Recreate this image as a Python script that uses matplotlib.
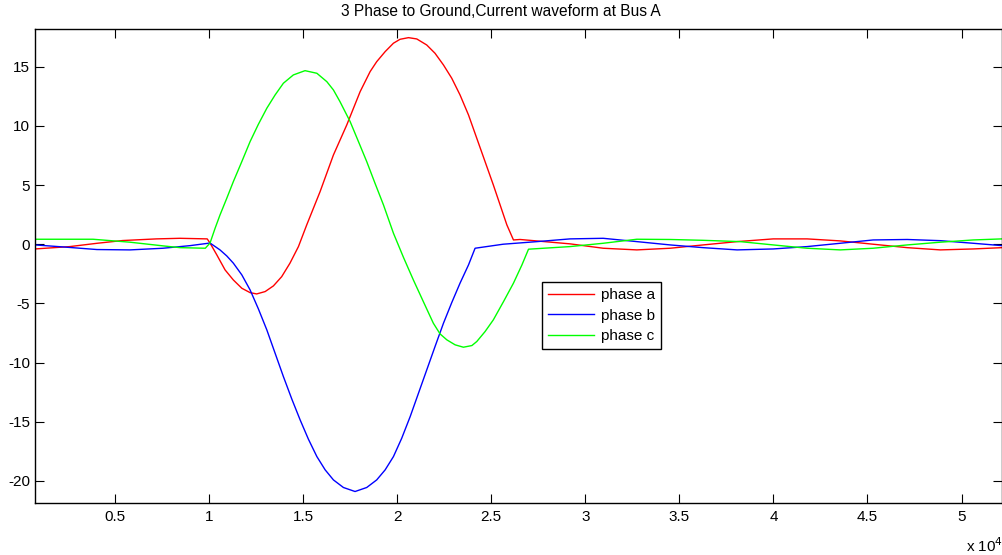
import matplotlib
matplotlib.use("Agg")
import matplotlib.pyplot as plt

plt.rcParams['font.family'] = ['Liberation Sans', 'DejaVu Sans']
plt.rcParams['axes.unicode_minus'] = False

# ---- data (sample index, current) ----
red_x = [750, 2600, 4050, 5400, 7200, 8450, 9900, 10050, 10410, 10850, 11290, 11740,
         12180, 12530, 12980, 13420, 13860, 14300, 14750, 15190, 15900, 16610, 17320,
         18030, 18560, 18910, 19360, 19800, 20150, 20600, 21040, 21570, 22010, 22460,
         22900, 23340, 23790, 24230, 24670, 25110, 25470, 25830, 26180, 26530, 29190,
         30950, 32740, 34510, 36260, 38070, 39990, 41790, 43550, 45300, 47110, 48870,
         50620, 52150]
red_y = [-0.40, -0.20, 0.08, 0.31, 0.45, 0.50, 0.45, 0.10, -0.90, -2.17, -3.02, -3.72,
         -4.09, -4.20, -4.00, -3.52, -2.74, -1.60, -0.20, 1.63, 4.44, 7.54, 10.08,
         12.89, 14.58, 15.42, 16.27, 16.98, 17.31, 17.45, 17.34, 16.83, 16.13, 15.14,
         14.02, 12.61, 10.92, 8.95, 6.98, 5.01, 3.32, 1.63, 0.36, 0.40, 0.03,
         -0.34, -0.48, -0.34, -0.06, 0.22, 0.45, 0.45, 0.28, 0.00, -0.29, -0.48,
         -0.40, -0.29]

blue_x = [750, 2240, 4040, 5800, 7550, 8990, 9950, 10050, 10580, 10940, 11290, 11740,
          12180, 12620, 13070, 13510, 13950, 14400, 14840, 15280, 15730, 16170, 16610,
          17140, 17760, 18380, 18910, 19360, 19800, 20240, 20690, 21130, 21570, 22010,
          22460, 22900, 23340, 23790, 24140, 25630, 27440, 29190, 30950, 32740, 34510,
          36260, 38070, 39990, 41790, 43550, 45300, 47110, 48870, 50620, 52150]
blue_y = [-0.06, -0.23, -0.45, -0.48, -0.34, -0.12, 0.08, 0.10, -0.48, -0.99, -1.60,
          -2.59, -3.86, -5.46, -7.24, -9.21, -11.18, -13.09, -14.84, -16.47, -17.94,
          -19.06, -19.91, -20.55, -20.89, -20.55, -19.91, -19.06, -17.94, -16.39, -14.56,
          -12.59, -10.62, -8.65, -6.67, -4.93, -3.29, -1.75, -0.34, 0.00, 0.22, 0.45,
          0.50, 0.22, -0.06, -0.29, -0.48, -0.40, -0.20, 0.08, 0.36, 0.40, 0.30, 0.08,
          -0.12]

green_x = [750, 3830, 5800, 7550, 8460, 9800, 10050, 10320, 10580, 10940, 11290, 11740,
           12180, 12620, 13070, 13510, 13950, 14480, 15100, 15730, 16260, 16610, 16960,
           17500, 17940, 18380, 18820, 19270, 19800, 20330, 20860, 21390, 21920, 22280,
           22640, 23080, 23520, 23970, 24230, 24670, 25110, 25650, 26180, 26630, 26980,
           29190, 30950, 32740, 34510, 36260, 38230, 39990, 41790, 43550, 45300, 47110,
           48870, 50620, 52150]
green_y = [0.42, 0.42, 0.17, -0.14, -0.29, -0.34, 0.10, 1.35, 2.47, 3.88, 5.29, 6.98,
           8.67, 10.13, 11.49, 12.61, 13.60, 14.30, 14.66, 14.44, 13.73, 13.03, 12.04,
           10.35, 8.67, 6.98, 5.15, 3.32, 0.93, -1.10, -3.02, -4.85, -6.67, -7.58,
           -8.08, -8.50, -8.70, -8.56, -8.22, -7.38, -6.39, -4.85, -3.29, -1.75, -0.42,
           -0.20, 0.08, 0.42, 0.40, 0.33, 0.22, -0.06, -0.34, -0.48, -0.34, -0.06,
           0.17, 0.36, 0.45]

series_labels = ['phase a', 'phase b', 'phase c']
xticks = [5000, 10000, 15000, 20000, 25000, 30000, 35000, 40000, 45000, 50000]
xtick_labels = ['0.5', '1', '1.5', '2', '2.5', '3', '3.5', '4', '4.5', '5']
yticks = [-20, -15, -10, -5, 0, 5, 10, 15]
title = '3 Phase to Ground,Current waveform at Bus A'

# ---- figure ----
fig = plt.figure(figsize=(10.03, 5.55), dpi=100)
ax = fig.add_axes([35 / 1003, 1 - 503 / 555, 967 / 1003, 474 / 555])

ax.plot(red_x, red_y, color='#ff0000', lw=1.0, label=series_labels[0])
ax.plot(blue_x, blue_y, color='#0000ff', lw=1.0, label=series_labels[1])
ax.plot(green_x, green_y, color='#00ff00', lw=1.0, label=series_labels[2])

ax.set_xlim(746, 52150)
ax.set_ylim(-21.86, 18.18)
ax.set_xticks(xticks)
ax.set_xticklabels(xtick_labels)
ax.set_yticks(yticks)
ax.tick_params(direction='in', length=6.8, width=0.8, top=True, right=True,
               labelsize=11, colors='black')
ax.tick_params(axis='x', pad=5)
ax.tick_params(axis='y', pad=3.5)
for s in ax.spines.values():
    s.set_linewidth(1.0)
    s.set_color('black')

fig.text(501 / 1003, 1 - 12 / 555, title, ha='center', va='center', fontsize=11.2)
fig.text(966 / 1003, 1 - 546 / 555, r'x 10$^{4}$', ha='left', va='center', fontsize=11)

leg = ax.legend(loc='upper left', bbox_to_anchor=(0.524, 0.4656), fancybox=False,
                framealpha=1, edgecolor='black', fontsize=11, handlelength=3.0,
                handletextpad=0.45, labelspacing=0.42, borderpad=0.4, borderaxespad=0)
leg.get_frame().set_linewidth(1.0)

fig.savefig('out.png', dpi=100)
